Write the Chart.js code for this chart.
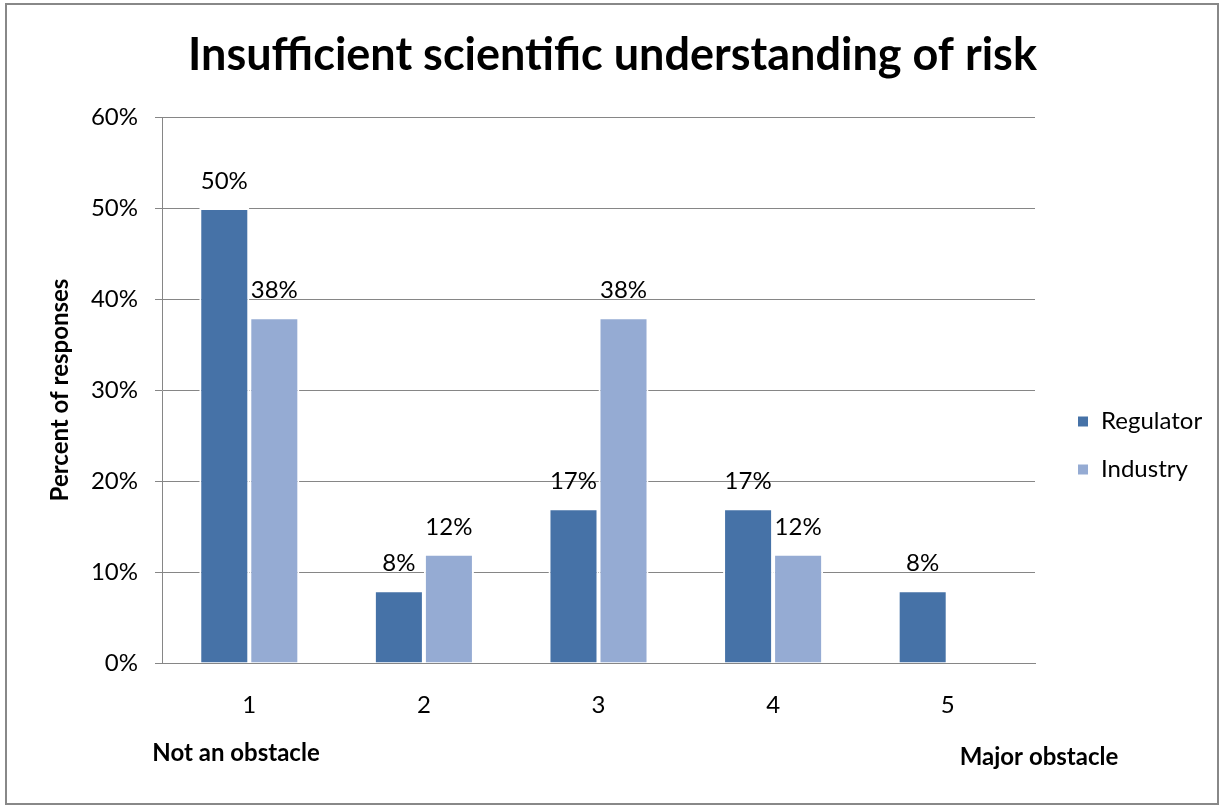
<!DOCTYPE html>
<html>
<head>
<meta charset="utf-8">
<script src="https://cdn.jsdelivr.net/npm/chart.js@4/dist/chart.umd.min.js"></script>
<style>
  body { margin: 0; background: #fff; }
  #wrap { width: 1225px; height: 808px; }
</style>
</head>
<body>
<div id="wrap"><canvas id="myChart" width="1225" height="808"></canvas></div>
<script>
// chart data
const categories = ['1', '2', '3', '4', '5'];
const regulator = [50, 8, 17, 17, 8];
const industry = [38, 12, 38, 12, 0];
const yTicks = [0, 10, 20, 30, 40, 50, 60];

const FONT = 'Lato, "Open Sans", sans-serif';

// border round the whole picture, plus the two end labels under the axis
const framePlugin = {
    id: 'frame',
    afterInit(chart) {
        const legend = chart.legend;
        const origFit = legend.fit;
        legend.fit = function () {
            origFit.call(this);
            this.width = 180;
        };
    },
    afterLayout(chart) {
        const lg = chart.legend;
        lg.top += 44;
        lg.bottom += 44;
        lg.left += 18;
    },
    beforeDraw(chart) {
        const ctx = chart.ctx;
        ctx.save();
        ctx.fillStyle = '#fff';
        ctx.fillRect(0, 0, chart.width, chart.height);
        ctx.restore();
    },
    afterDraw(chart) {
        const ctx = chart.ctx;
        ctx.save();
        ctx.strokeStyle = '#888';
        ctx.lineWidth = 2;
        ctx.strokeRect(6, 4, 1212, 800);
        ctx.fillStyle = '#000';
        ctx.font = 'bold 24px ' + FONT;
        ctx.textAlign = 'center';
        ctx.textBaseline = 'middle';
        ctx.fillText('Not an obstacle', 236, 753);
        ctx.fillText('Major obstacle', 1039, 757);
        ctx.restore();
    }
};

// value labels over each bar
const valueLabels = {
    id: 'valueLabels',
    afterDatasetsDraw(chart) {
        const ctx = chart.ctx;
        ctx.save();
        ctx.fillStyle = '#000';
        ctx.font = '24px ' + FONT;
        ctx.textAlign = 'center';
        ctx.textBaseline = 'middle';
        chart.data.datasets.forEach((ds, i) => {
            const meta = chart.getDatasetMeta(i);
            meta.data.forEach((bar, j) => {
                const v = ds.data[j];
                if (!v) return;
                ctx.fillText(v + '%', bar.x, bar.y - 27);
            });
        });
        ctx.restore();
    }
};

const ctx = document.getElementById('myChart');
const myChart = new Chart(ctx, {
    type: 'bar',
    data: {
        labels: categories,
        datasets: [{
            label: 'Regulator',
            data: regulator,
            backgroundColor: '#4672A7',
            borderColor: '#ffffff',
            borderWidth: 2
        }, {
            label: 'Industry',
            data: industry,
            backgroundColor: '#95ABD3',
            borderColor: '#ffffff',
            borderWidth: 2
        }]
    },
    plugins: [framePlugin, valueLabels],
    options: {
        responsive: false,
        animation: false,
        events: [],
        layout: {
            padding: { left: 10, right: 10, top: 0, bottom: 5 }
        },
        datasets: {
            bar: { categoryPercentage: 0.573, barPercentage: 1 }
        },
        scales: {
            x: {
                grid: { display: false, drawTicks: false },
                border: { display: true, color: '#868686', width: 1 },
                ticks: {
                    color: '#000',
                    font: { family: FONT, size: 24 },
                    padding: 28
                },
                afterFit(scale) { scale.height = 140; }
            },
            y: {
                min: 0,
                max: 60,
                afterBuildTicks(scale) {
                    scale.ticks = yTicks.map(v => ({ value: v }));
                },
                grid: {
                    color: '#868686',
                    lineWidth: 1,
                    drawTicks: true,
                    tickLength: 7
                },
                border: { display: true, color: '#868686', width: 1 },
                ticks: {
                    color: '#000',
                    font: { family: FONT, size: 24 },
                    padding: 17,
                    callback: v => v + '%'
                },
                title: {
                    display: true,
                    text: 'Percent of responses',
                    color: '#000',
                    font: { family: FONT, size: 24, weight: 'bold' },
                    padding: { top: 36, bottom: 0 }
                },
                afterFit(scale) { scale.width = 152; }
            }
        },
        plugins: {
            title: {
                display: true,
                text: 'Insufficient scientific understanding of risk',
                color: '#000',
                font: { family: FONT, size: 45, weight: 'bold', lineHeight: 1.2 },
                padding: { top: 28, bottom: 35 }
            },
            legend: {
                display: true,
                position: 'right',
                labels: {
                    color: '#000',
                    font: { family: FONT, size: 24 },
                    boxWidth: 12,
                    boxHeight: 12,
                    padding: 24
                }
            },
            tooltip: { enabled: false }
        }
    }
});
</script>
</body>
</html>
